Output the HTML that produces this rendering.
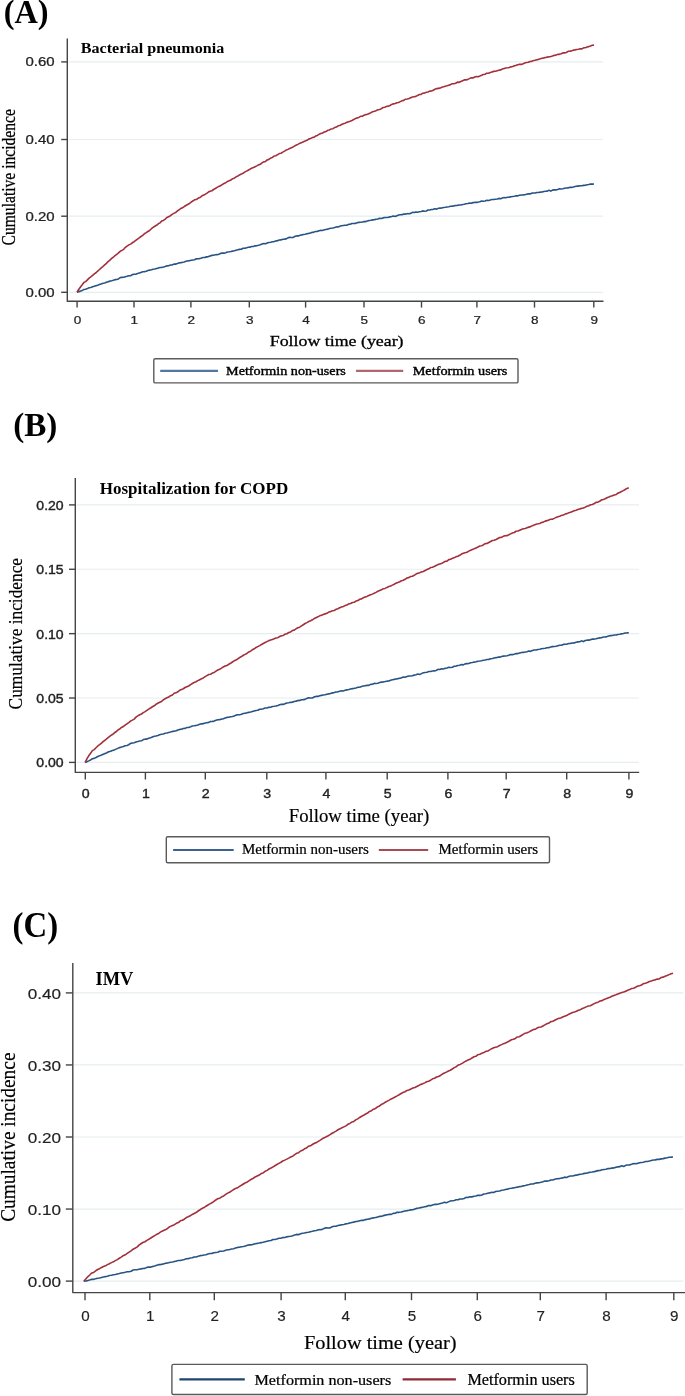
<!DOCTYPE html>
<html><head><meta charset="utf-8"><title>Cumulative incidence</title>
<style>html,body{margin:0;padding:0;background:#fff;overflow:hidden;} svg{display:block;font-family:"Liberation Serif",serif;will-change:transform;}</style>
</head><body>
<svg width="685" height="1396" viewBox="0 0 685 1396">
<rect width="685" height="1396" fill="#fff"/>
<line x1="68.5" y1="61.90" x2="603" y2="61.90" stroke="#e6eef0" stroke-width="1.2"/>
<line x1="68.5" y1="139.50" x2="603" y2="139.50" stroke="#e6eef0" stroke-width="1.2"/>
<line x1="68.5" y1="216.20" x2="603" y2="216.20" stroke="#e6eef0" stroke-width="1.2"/>
<line x1="68.5" y1="292.30" x2="603" y2="292.30" stroke="#e6eef0" stroke-width="1.2"/>
<path d="M67.3,38.4 L67.3,301.2 L603.5,301.2" fill="none" stroke="#444" stroke-width="1.4" stroke-linejoin="round"/>
<line x1="61.2" y1="61.90" x2="67.3" y2="61.90" stroke="#444" stroke-width="1.4"/>
<line x1="61.2" y1="139.50" x2="67.3" y2="139.50" stroke="#444" stroke-width="1.4"/>
<line x1="61.2" y1="216.20" x2="67.3" y2="216.20" stroke="#444" stroke-width="1.4"/>
<line x1="61.2" y1="292.30" x2="67.3" y2="292.30" stroke="#444" stroke-width="1.4"/>
<line x1="77.10" y1="301.2" x2="77.10" y2="307.6" stroke="#444" stroke-width="1.4"/>
<line x1="134.00" y1="301.2" x2="134.00" y2="307.6" stroke="#444" stroke-width="1.4"/>
<line x1="190.90" y1="301.2" x2="190.90" y2="307.6" stroke="#444" stroke-width="1.4"/>
<line x1="249.30" y1="301.2" x2="249.30" y2="307.6" stroke="#444" stroke-width="1.4"/>
<line x1="305.60" y1="301.2" x2="305.60" y2="307.6" stroke="#444" stroke-width="1.4"/>
<line x1="364.00" y1="301.2" x2="364.00" y2="307.6" stroke="#444" stroke-width="1.4"/>
<line x1="421.50" y1="301.2" x2="421.50" y2="307.6" stroke="#444" stroke-width="1.4"/>
<line x1="476.90" y1="301.2" x2="476.90" y2="307.6" stroke="#444" stroke-width="1.4"/>
<line x1="534.50" y1="301.2" x2="534.50" y2="307.6" stroke="#444" stroke-width="1.4"/>
<line x1="593.80" y1="301.2" x2="593.80" y2="307.6" stroke="#444" stroke-width="1.4"/>
<path d="M77.0,292.20 L78.7,291.64 L80.5,291.11 L82.2,290.40 L83.9,289.47 L85.6,289.31 L87.4,288.62 L89.1,287.83 L90.8,287.47 L92.6,286.85 L94.3,286.26 L96.0,285.64 L97.7,285.18 L99.5,284.36 L101.2,283.93 L102.9,283.32 L104.7,282.99 L106.4,282.34 L108.1,281.74 L109.9,281.12 L111.6,280.70 L113.3,280.23 L115.0,279.66 L116.8,279.47 L118.5,278.91 L120.2,277.66 L122.0,277.33 L123.7,277.18 L125.4,276.64 L127.1,276.29 L128.9,275.81 L130.6,275.71 L132.3,274.59 L134.1,274.27 L135.8,274.28 L137.5,273.54 L139.2,273.09 L141.0,272.39 L142.7,271.72 L144.4,271.63 L146.2,271.17 L147.9,270.46 L149.6,270.13 L151.4,269.81 L153.1,269.20 L154.8,268.94 L156.5,268.54 L158.3,268.10 L160.0,267.57 L161.7,267.37 L163.5,267.01 L165.2,266.47 L166.9,265.83 L168.6,265.72 L170.4,265.06 L172.1,264.93 L173.8,264.13 L175.6,264.12 L177.3,263.53 L179.0,262.88 L180.7,262.66 L182.5,262.34 L184.2,261.98 L185.9,261.33 L187.7,260.91 L189.4,260.78 L191.1,260.25 L192.8,260.00 L194.6,259.71 L196.3,258.83 L198.0,258.82 L199.8,258.63 L201.5,257.93 L203.2,257.44 L205.0,257.37 L206.7,256.88 L208.4,256.62 L210.1,255.99 L211.9,255.37 L213.6,255.26 L215.3,254.81 L217.1,254.66 L218.8,254.16 L220.5,253.41 L222.2,253.11 L224.0,253.14 L225.7,252.71 L227.4,252.06 L229.2,251.80 L230.9,251.50 L232.6,251.11 L234.3,250.80 L236.1,250.29 L237.8,249.83 L239.5,249.40 L241.3,249.27 L243.0,248.21 L244.7,248.24 L246.5,247.88 L248.2,247.19 L249.9,247.14 L251.6,246.54 L253.4,246.45 L255.1,245.85 L256.8,245.61 L258.6,245.31 L260.3,244.74 L262.0,244.09 L263.7,243.56 L265.5,243.81 L267.2,243.03 L268.9,242.51 L270.7,242.27 L272.4,241.80 L274.1,241.60 L275.8,241.03 L277.6,240.62 L279.3,240.07 L281.0,239.90 L282.8,239.20 L284.5,239.13 L286.2,238.90 L287.9,237.88 L289.7,237.29 L291.4,237.50 L293.1,237.48 L294.9,236.37 L296.6,235.92 L298.3,235.88 L300.1,235.19 L301.8,234.86 L303.5,234.49 L305.2,234.26 L307.0,233.67 L308.7,233.41 L310.4,232.92 L312.2,232.39 L313.9,232.10 L315.6,231.58 L317.3,231.38 L319.1,230.76 L320.8,230.37 L322.5,230.49 L324.3,229.80 L326.0,229.42 L327.7,229.15 L329.4,228.58 L331.2,228.24 L332.9,227.99 L334.6,227.58 L336.4,226.92 L338.1,226.95 L339.8,226.29 L341.6,225.83 L343.3,225.50 L345.0,225.24 L346.7,225.28 L348.5,224.37 L350.2,224.28 L351.9,223.47 L353.7,223.55 L355.4,223.39 L357.1,222.82 L358.8,222.40 L360.6,222.24 L362.3,221.99 L364.0,221.66 L365.8,221.59 L367.5,220.91 L369.2,220.42 L370.9,220.19 L372.7,219.88 L374.4,219.60 L376.1,219.25 L377.9,218.98 L379.6,218.29 L381.3,218.48 L383.1,217.89 L384.8,217.46 L386.5,217.51 L388.2,217.34 L390.0,216.87 L391.7,216.50 L393.4,215.98 L395.2,216.43 L396.9,215.73 L398.6,215.03 L400.3,214.80 L402.1,214.67 L403.8,214.04 L405.5,214.09 L407.3,213.66 L409.0,213.70 L410.7,213.35 L412.4,212.32 L414.2,212.58 L415.9,211.95 L417.6,212.20 L419.4,211.72 L421.1,211.50 L422.8,210.89 L424.5,211.17 L426.3,210.92 L428.0,210.01 L429.7,210.01 L431.5,209.51 L433.2,209.35 L434.9,208.82 L436.7,209.16 L438.4,208.30 L440.1,208.15 L441.8,208.02 L443.6,207.51 L445.3,207.30 L447.0,206.95 L448.8,206.75 L450.5,206.26 L452.2,206.13 L453.9,205.89 L455.7,205.58 L457.4,205.38 L459.1,205.03 L460.9,204.95 L462.6,204.46 L464.3,204.21 L466.0,203.83 L467.8,203.58 L469.5,203.15 L471.2,203.23 L473.0,202.62 L474.7,202.42 L476.4,202.36 L478.2,202.09 L479.9,201.65 L481.6,201.05 L483.3,201.26 L485.1,200.95 L486.8,200.34 L488.5,200.51 L490.3,199.94 L492.0,199.57 L493.7,199.54 L495.4,199.21 L497.2,199.02 L498.9,198.38 L500.6,198.79 L502.4,198.03 L504.1,197.57 L505.8,197.73 L507.5,197.26 L509.3,197.12 L511.0,196.72 L512.7,196.50 L514.5,196.29 L516.2,195.82 L517.9,195.83 L519.6,195.33 L521.4,194.98 L523.1,194.89 L524.8,194.70 L526.6,194.29 L528.3,193.89 L530.0,193.91 L531.8,193.17 L533.5,193.04 L535.2,192.98 L536.9,192.43 L538.7,192.44 L540.4,192.15 L542.1,192.07 L543.9,191.43 L545.6,191.22 L547.3,191.14 L549.0,190.31 L550.8,191.15 L552.5,190.12 L554.2,189.84 L556.0,189.89 L557.7,189.44 L559.4,188.82 L561.1,189.02 L562.9,188.80 L564.6,188.26 L566.3,188.03 L568.1,187.91 L569.8,187.36 L571.5,187.35 L573.3,187.03 L575.0,186.58 L576.7,186.17 L578.4,186.13 L580.2,185.72 L581.9,185.82 L583.6,185.38 L585.4,185.23 L587.1,184.83 L588.8,184.58 L590.5,184.09 L592.3,184.11 L594.0,184.06" fill="none" stroke="#285483" stroke-width="1.6" stroke-linejoin="round"/>
<path d="M77.0,292.20 L78.7,289.53 L80.5,286.97 L82.2,284.84 L83.9,282.50 L85.6,281.61 L87.4,279.88 L89.1,278.10 L90.8,276.90 L92.6,275.42 L94.3,273.88 L96.0,272.76 L97.7,271.03 L99.5,269.50 L101.2,267.85 L102.9,266.51 L104.7,264.81 L106.4,263.34 L108.1,261.52 L109.9,260.11 L111.6,258.37 L113.3,257.23 L115.0,255.66 L116.8,254.29 L118.5,252.94 L120.2,251.32 L122.0,250.37 L123.7,249.35 L125.4,247.35 L127.1,246.08 L128.9,244.89 L130.6,244.13 L132.3,242.77 L134.1,241.73 L135.8,240.42 L137.5,239.08 L139.2,237.84 L141.0,236.49 L142.7,235.43 L144.4,233.76 L146.2,232.62 L147.9,231.48 L149.6,230.51 L151.4,228.72 L153.1,227.39 L154.8,226.23 L156.5,225.28 L158.3,223.79 L160.0,222.87 L161.7,221.01 L163.5,220.40 L165.2,219.19 L166.9,217.51 L168.6,216.66 L170.4,215.71 L172.1,214.34 L173.8,213.39 L175.6,212.54 L177.3,211.00 L179.0,209.79 L180.7,208.60 L182.5,207.80 L184.2,206.55 L185.9,205.49 L187.7,204.45 L189.4,203.55 L191.1,202.17 L192.8,201.04 L194.6,199.83 L196.3,199.54 L198.0,198.30 L199.8,197.59 L201.5,196.28 L203.2,195.14 L205.0,194.39 L206.7,193.30 L208.4,192.08 L210.1,191.18 L211.9,190.74 L213.6,189.49 L215.3,188.53 L217.1,187.43 L218.8,186.39 L220.5,185.75 L222.2,184.59 L224.0,183.51 L225.7,182.68 L227.4,181.57 L229.2,180.84 L230.9,180.08 L232.6,178.73 L234.3,178.23 L236.1,176.86 L237.8,176.08 L239.5,174.93 L241.3,174.10 L243.0,173.21 L244.7,172.17 L246.5,171.17 L248.2,170.23 L249.9,169.26 L251.6,168.17 L253.4,167.49 L255.1,166.69 L256.8,165.85 L258.6,164.87 L260.3,164.30 L262.0,162.94 L263.7,161.86 L265.5,161.41 L267.2,159.91 L268.9,159.39 L270.7,158.10 L272.4,157.45 L274.1,156.08 L275.8,155.75 L277.6,154.64 L279.3,153.59 L281.0,153.22 L282.8,152.16 L284.5,151.13 L286.2,150.10 L287.9,149.37 L289.7,148.47 L291.4,147.79 L293.1,146.95 L294.9,145.80 L296.6,144.98 L298.3,144.14 L300.1,143.14 L301.8,142.46 L303.5,141.73 L305.2,141.07 L307.0,140.37 L308.7,139.13 L310.4,138.60 L312.2,137.59 L313.9,137.30 L315.6,136.07 L317.3,135.39 L319.1,134.32 L320.8,133.56 L322.5,132.98 L324.3,132.09 L326.0,131.47 L327.7,130.32 L329.4,130.00 L331.2,128.93 L332.9,128.70 L334.6,127.54 L336.4,127.07 L338.1,125.83 L339.8,125.45 L341.6,124.45 L343.3,123.80 L345.0,123.17 L346.7,122.38 L348.5,121.77 L350.2,121.15 L351.9,120.41 L353.7,119.55 L355.4,118.58 L357.1,117.99 L358.8,117.41 L360.6,116.32 L362.3,116.20 L364.0,115.30 L365.8,114.61 L367.5,114.16 L369.2,113.42 L370.9,112.65 L372.7,111.73 L374.4,111.31 L376.1,110.65 L377.9,109.73 L379.6,109.45 L381.3,108.68 L383.1,107.52 L384.8,107.29 L386.5,106.35 L388.2,106.18 L390.0,105.47 L391.7,104.44 L393.4,103.85 L395.2,103.41 L396.9,102.70 L398.6,102.42 L400.3,101.64 L402.1,100.81 L403.8,100.36 L405.5,99.21 L407.3,99.07 L409.0,98.56 L410.7,97.75 L412.4,97.03 L414.2,96.68 L415.9,96.36 L417.6,95.41 L419.4,94.55 L421.1,94.47 L422.8,93.22 L424.5,93.11 L426.3,92.31 L428.0,92.03 L429.7,91.10 L431.5,90.96 L433.2,90.19 L434.9,89.21 L436.7,88.60 L438.4,88.37 L440.1,88.13 L441.8,87.34 L443.6,86.77 L445.3,86.16 L447.0,85.80 L448.8,85.18 L450.5,84.62 L452.2,83.82 L453.9,83.72 L455.7,83.22 L457.4,82.15 L459.1,82.34 L460.9,81.49 L462.6,80.72 L464.3,79.91 L466.0,79.90 L467.8,79.36 L469.5,78.61 L471.2,77.85 L473.0,77.92 L474.7,77.07 L476.4,76.58 L478.2,76.74 L479.9,76.09 L481.6,75.35 L483.3,74.56 L485.1,74.29 L486.8,73.20 L488.5,73.18 L490.3,72.51 L492.0,71.92 L493.7,71.37 L495.4,71.30 L497.2,70.72 L498.9,70.25 L500.6,69.90 L502.4,69.08 L504.1,68.53 L505.8,67.94 L507.5,67.75 L509.3,67.49 L511.0,66.84 L512.7,66.52 L514.5,65.68 L516.2,65.36 L517.9,64.83 L519.6,64.26 L521.4,64.42 L523.1,63.75 L524.8,62.97 L526.6,62.50 L528.3,62.18 L530.0,61.45 L531.8,61.36 L533.5,60.56 L535.2,60.29 L536.9,59.70 L538.7,59.35 L540.4,58.73 L542.1,58.23 L543.9,57.90 L545.6,57.51 L547.3,57.13 L549.0,56.76 L550.8,56.60 L552.5,56.01 L554.2,55.35 L556.0,55.10 L557.7,54.37 L559.4,54.35 L561.1,53.73 L562.9,52.91 L564.6,52.88 L566.3,52.45 L568.1,51.31 L569.8,51.26 L571.5,50.87 L573.3,50.14 L575.0,49.87 L576.7,49.46 L578.4,49.31 L580.2,48.83 L581.9,48.86 L583.6,47.81 L585.4,47.68 L587.1,47.03 L588.8,46.63 L590.5,45.91 L592.3,45.32 L594.0,45.11" fill="none" stroke="#a2303a" stroke-width="1.6" stroke-linejoin="round"/>
<rect x="153.8" y="358.7" width="364.20" height="24.20" rx="1.5" fill="#fff" stroke="#5a5a5a" stroke-width="1.4"/>
<line x1="160.2" y1="370.9" x2="218" y2="370.9" stroke="#5277a0" stroke-width="2.2"/>
<line x1="356.0" y1="370.9" x2="403.2" y2="370.9" stroke="#b0666c" stroke-width="2.2"/>
<line x1="76.5" y1="504.90" x2="639" y2="504.90" stroke="#e6eef0" stroke-width="1.2"/>
<line x1="76.5" y1="569.27" x2="639" y2="569.27" stroke="#e6eef0" stroke-width="1.2"/>
<line x1="76.5" y1="633.65" x2="639" y2="633.65" stroke="#e6eef0" stroke-width="1.2"/>
<line x1="76.5" y1="698.02" x2="639" y2="698.02" stroke="#e6eef0" stroke-width="1.2"/>
<line x1="76.5" y1="762.40" x2="639" y2="762.40" stroke="#e6eef0" stroke-width="1.2"/>
<path d="M75.3,478.0 L75.3,772.4 L639.2,772.4" fill="none" stroke="#444" stroke-width="1.4" stroke-linejoin="round"/>
<line x1="69" y1="504.90" x2="75.3" y2="504.90" stroke="#444" stroke-width="1.4"/>
<line x1="69" y1="569.27" x2="75.3" y2="569.27" stroke="#444" stroke-width="1.4"/>
<line x1="69" y1="633.65" x2="75.3" y2="633.65" stroke="#444" stroke-width="1.4"/>
<line x1="69" y1="698.02" x2="75.3" y2="698.02" stroke="#444" stroke-width="1.4"/>
<line x1="69" y1="762.40" x2="75.3" y2="762.40" stroke="#444" stroke-width="1.4"/>
<line x1="85.30" y1="772.4" x2="85.30" y2="779.5" stroke="#444" stroke-width="1.4"/>
<line x1="145.40" y1="772.4" x2="145.40" y2="779.5" stroke="#444" stroke-width="1.4"/>
<line x1="205.30" y1="772.4" x2="205.30" y2="779.5" stroke="#444" stroke-width="1.4"/>
<line x1="266.80" y1="772.4" x2="266.80" y2="779.5" stroke="#444" stroke-width="1.4"/>
<line x1="325.90" y1="772.4" x2="325.90" y2="779.5" stroke="#444" stroke-width="1.4"/>
<line x1="387.20" y1="772.4" x2="387.20" y2="779.5" stroke="#444" stroke-width="1.4"/>
<line x1="447.90" y1="772.4" x2="447.90" y2="779.5" stroke="#444" stroke-width="1.4"/>
<line x1="506.20" y1="772.4" x2="506.20" y2="779.5" stroke="#444" stroke-width="1.4"/>
<line x1="566.70" y1="772.4" x2="566.70" y2="779.5" stroke="#444" stroke-width="1.4"/>
<line x1="628.90" y1="772.4" x2="628.90" y2="779.5" stroke="#444" stroke-width="1.4"/>
<path d="M85.1,762.50 L86.9,761.67 L88.7,760.89 L90.6,759.92 L92.4,758.75 L94.2,758.35 L96.0,757.44 L97.8,756.44 L99.6,755.86 L101.5,755.04 L103.3,754.25 L105.1,753.44 L106.9,752.80 L108.7,751.80 L110.6,751.19 L112.4,750.42 L114.2,749.93 L116.0,749.13 L117.8,748.38 L119.6,747.61 L121.5,747.05 L123.3,746.45 L125.1,745.75 L126.9,745.43 L128.7,744.74 L130.6,743.38 L132.4,742.93 L134.2,742.67 L136.0,742.03 L137.8,741.57 L139.7,740.99 L141.5,740.79 L143.3,739.58 L145.1,739.17 L146.9,739.10 L148.7,738.27 L150.6,737.73 L152.4,736.96 L154.2,736.20 L156.0,736.04 L157.8,735.51 L159.7,734.73 L161.5,734.32 L163.3,733.94 L165.1,733.26 L166.9,732.94 L168.7,732.48 L170.6,731.98 L172.4,731.39 L174.2,731.13 L176.0,730.71 L177.8,730.12 L179.7,729.41 L181.5,729.25 L183.3,728.54 L185.1,728.35 L186.9,727.50 L188.7,727.43 L190.6,726.78 L192.4,726.08 L194.2,725.81 L196.0,725.43 L197.8,725.01 L199.7,724.31 L201.5,723.83 L203.3,723.64 L205.1,723.05 L206.9,722.73 L208.8,722.38 L210.6,721.45 L212.4,721.37 L214.2,721.11 L216.0,720.36 L217.8,719.80 L219.7,719.66 L221.5,719.10 L223.3,718.78 L225.1,718.08 L226.9,717.40 L228.8,717.22 L230.6,716.70 L232.4,716.49 L234.2,715.93 L236.0,715.11 L237.8,714.75 L239.7,714.71 L241.5,714.22 L243.3,713.51 L245.1,713.19 L246.9,712.84 L248.8,712.39 L250.6,712.03 L252.4,711.46 L254.2,710.95 L256.0,710.48 L257.8,710.30 L259.7,709.20 L261.5,709.18 L263.3,708.78 L265.1,708.05 L266.9,707.97 L268.8,707.34 L270.6,707.21 L272.4,706.58 L274.2,706.31 L276.0,705.99 L277.8,705.40 L279.7,704.72 L281.5,704.17 L283.3,704.40 L285.1,703.61 L286.9,703.07 L288.8,702.82 L290.6,702.34 L292.4,702.13 L294.2,701.56 L296.0,701.14 L297.9,700.58 L299.7,700.41 L301.5,699.70 L303.3,699.63 L305.1,699.40 L306.9,698.38 L308.8,697.79 L310.6,698.00 L312.4,697.98 L314.2,696.87 L316.0,696.41 L317.9,696.38 L319.7,695.69 L321.5,695.36 L323.3,694.99 L325.1,694.76 L326.9,694.18 L328.8,693.91 L330.6,693.42 L332.4,692.89 L334.2,692.60 L336.0,692.07 L337.9,691.86 L339.7,691.24 L341.5,690.84 L343.3,690.95 L345.1,690.25 L346.9,689.85 L348.8,689.56 L350.6,688.98 L352.4,688.61 L354.2,688.34 L356.0,687.91 L357.9,687.22 L359.7,687.22 L361.5,686.53 L363.3,686.04 L365.1,685.67 L367.0,685.37 L368.8,685.37 L370.6,684.41 L372.4,684.27 L374.2,683.41 L376.0,683.44 L377.9,683.21 L379.7,682.59 L381.5,682.11 L383.3,681.88 L385.1,681.57 L387.0,681.16 L388.8,681.02 L390.6,680.26 L392.4,679.70 L394.2,679.40 L396.0,679.01 L397.9,678.64 L399.7,678.21 L401.5,677.85 L403.3,677.08 L405.1,677.18 L407.0,676.50 L408.8,675.99 L410.6,675.95 L412.4,675.69 L414.2,675.12 L416.0,674.66 L417.9,674.04 L419.7,674.41 L421.5,673.61 L423.3,672.81 L425.1,672.49 L427.0,672.27 L428.8,671.55 L430.6,671.50 L432.4,670.98 L434.2,670.92 L436.1,670.48 L437.9,669.35 L439.7,669.51 L441.5,668.79 L443.3,668.94 L445.1,668.36 L447.0,668.05 L448.8,667.34 L450.6,667.53 L452.4,667.18 L454.2,666.18 L456.1,666.08 L457.9,665.49 L459.7,665.24 L461.5,664.61 L463.3,664.85 L465.1,663.90 L467.0,663.66 L468.8,663.44 L470.6,662.83 L472.4,662.53 L474.2,662.09 L476.1,661.80 L477.9,661.22 L479.7,660.99 L481.5,660.67 L483.3,660.27 L485.1,659.98 L487.0,659.54 L488.8,659.38 L490.6,658.80 L492.4,658.47 L494.2,657.99 L496.1,657.66 L497.9,657.15 L499.7,657.14 L501.5,656.45 L503.3,656.16 L505.1,656.02 L507.0,655.67 L508.8,655.15 L510.6,654.47 L512.4,654.60 L514.2,654.22 L516.1,653.53 L517.9,653.61 L519.7,652.96 L521.5,652.52 L523.3,652.41 L525.2,652.00 L527.0,651.73 L528.8,651.02 L530.6,651.35 L532.4,650.52 L534.2,649.98 L536.1,650.06 L537.9,649.52 L539.7,649.31 L541.5,648.83 L543.3,648.54 L545.2,648.25 L547.0,647.71 L548.8,647.65 L550.6,647.07 L552.4,646.65 L554.2,646.49 L556.1,646.22 L557.9,645.74 L559.7,645.27 L561.5,645.23 L563.3,644.41 L565.2,644.21 L567.0,644.08 L568.8,643.46 L570.6,643.40 L572.4,643.04 L574.2,642.89 L576.1,642.18 L577.9,641.90 L579.7,641.75 L581.5,640.85 L583.3,641.62 L585.2,640.52 L587.0,640.17 L588.8,640.15 L590.6,639.63 L592.4,638.94 L594.3,639.08 L596.1,638.78 L597.9,638.18 L599.7,637.87 L601.5,637.68 L603.3,637.06 L605.2,636.99 L607.0,636.60 L608.8,636.08 L610.6,635.59 L612.4,635.48 L614.3,635.01 L616.1,635.04 L617.9,634.53 L619.7,634.31 L621.5,633.84 L623.3,633.52 L625.2,632.96 L627.0,632.91 L628.8,632.78" fill="none" stroke="#285483" stroke-width="1.6" stroke-linejoin="round"/>
<path d="M85.1,762.50 L86.9,758.95 L88.7,755.78 L90.6,753.24 L92.4,750.65 L94.2,749.61 L96.0,747.80 L97.8,745.95 L99.6,744.66 L101.5,743.07 L103.3,741.42 L105.1,740.27 L106.9,738.58 L108.7,737.15 L110.6,735.65 L112.4,734.51 L114.2,733.02 L116.0,731.78 L117.8,730.20 L119.6,729.01 L121.5,727.49 L123.3,726.52 L125.1,725.09 L126.9,723.83 L128.7,722.57 L130.6,721.01 L132.4,720.11 L134.2,719.12 L136.0,717.14 L137.8,715.90 L139.7,714.73 L141.5,713.99 L143.3,712.65 L145.1,711.65 L146.9,710.40 L148.7,709.13 L150.6,707.99 L152.4,706.75 L154.2,705.81 L156.0,704.28 L157.8,703.30 L159.7,702.32 L161.5,701.52 L163.3,699.91 L165.1,698.76 L166.9,697.78 L168.7,697.02 L170.6,695.71 L172.4,694.97 L174.2,693.28 L176.0,692.84 L177.8,691.78 L179.7,690.27 L181.5,689.56 L183.3,688.76 L185.1,687.53 L186.9,686.72 L188.7,686.00 L190.6,684.59 L192.4,683.50 L194.2,682.43 L196.0,681.75 L197.8,680.62 L199.7,679.67 L201.5,678.73 L203.3,677.93 L205.1,676.64 L206.9,675.60 L208.8,674.47 L210.6,674.24 L212.4,673.06 L214.2,672.39 L216.0,671.13 L217.8,670.01 L219.7,669.28 L221.5,668.19 L223.3,666.96 L225.1,666.03 L226.9,665.55 L228.8,664.24 L230.6,663.21 L232.4,662.02 L234.2,660.86 L236.0,660.09 L237.8,658.79 L239.7,657.55 L241.5,656.55 L243.3,655.27 L245.1,654.36 L246.9,653.42 L248.8,651.91 L250.6,651.24 L252.4,649.72 L254.2,648.79 L256.0,647.52 L257.8,646.59 L259.7,645.62 L261.5,644.52 L263.3,643.49 L265.1,642.56 L266.9,641.63 L268.8,640.62 L270.6,640.07 L272.4,639.42 L274.2,638.78 L276.0,638.01 L277.8,637.67 L279.7,636.55 L281.5,635.69 L283.3,635.44 L285.1,634.11 L286.9,633.74 L288.8,632.54 L290.6,631.93 L292.4,630.55 L294.2,630.15 L296.0,628.93 L297.9,627.73 L299.7,627.21 L301.5,625.95 L303.3,624.74 L305.1,623.51 L306.9,622.60 L308.8,621.55 L310.6,620.73 L312.4,619.79 L314.2,618.57 L316.0,617.70 L317.9,616.84 L319.7,615.84 L321.5,615.18 L323.3,614.49 L325.1,613.87 L326.9,613.24 L328.8,612.07 L330.6,611.61 L332.4,610.68 L334.2,610.46 L336.0,609.32 L337.9,608.71 L339.7,607.69 L341.5,606.99 L343.3,606.46 L345.1,605.60 L346.9,605.00 L348.8,603.86 L350.6,603.55 L352.4,602.47 L354.2,602.23 L356.0,601.05 L357.9,600.55 L359.7,599.27 L361.5,598.85 L363.3,597.80 L365.1,597.09 L367.0,596.39 L368.8,595.52 L370.6,594.84 L372.4,594.13 L374.2,593.30 L376.0,592.34 L377.9,591.27 L379.7,590.57 L381.5,589.87 L383.3,588.67 L385.1,588.42 L387.0,587.40 L388.8,586.58 L390.6,586.00 L392.4,585.12 L394.2,584.20 L396.0,583.14 L397.9,582.58 L399.7,581.76 L401.5,580.69 L403.3,580.25 L405.1,579.33 L407.0,578.01 L408.8,577.61 L410.6,576.52 L412.4,576.18 L414.2,575.30 L416.0,574.11 L417.9,573.35 L419.7,572.74 L421.5,571.87 L423.3,571.42 L425.1,570.46 L427.0,569.46 L428.8,568.84 L430.6,567.53 L432.4,567.20 L434.2,566.53 L436.1,565.53 L437.9,564.63 L439.7,564.10 L441.5,563.58 L443.3,562.44 L445.1,561.39 L447.0,561.11 L448.8,559.65 L450.6,559.33 L452.4,558.31 L454.2,557.81 L456.1,556.65 L457.9,556.28 L459.7,555.26 L461.5,554.05 L463.3,553.18 L465.1,552.69 L467.0,552.19 L468.8,551.14 L470.6,550.31 L472.4,549.43 L474.2,548.81 L476.1,547.93 L477.9,547.10 L479.7,546.04 L481.5,545.68 L483.3,544.93 L485.1,543.61 L487.0,543.56 L488.8,542.48 L490.6,541.48 L492.4,540.45 L494.2,540.22 L496.1,539.46 L497.9,538.51 L499.7,537.55 L501.5,537.42 L503.3,536.37 L505.1,535.69 L507.0,535.66 L508.8,534.82 L510.6,533.90 L512.4,532.94 L514.2,532.49 L516.1,531.23 L517.9,531.04 L519.7,530.21 L521.5,529.44 L523.3,528.73 L525.2,528.50 L527.0,527.76 L528.8,527.13 L530.6,526.63 L532.4,525.65 L534.2,524.93 L536.1,524.18 L537.9,523.83 L539.7,523.42 L541.5,522.60 L543.3,522.13 L545.2,521.13 L547.0,520.64 L548.8,519.94 L550.6,519.21 L552.4,519.20 L554.2,518.36 L556.1,517.40 L557.9,516.77 L559.7,516.27 L561.5,515.35 L563.3,515.08 L565.2,514.09 L567.0,513.62 L568.8,512.84 L570.6,512.29 L572.4,511.46 L574.2,510.75 L576.1,510.20 L577.9,509.59 L579.7,508.99 L581.5,508.38 L583.3,507.98 L585.2,507.15 L587.0,506.23 L588.8,505.72 L590.6,504.73 L592.4,504.44 L594.3,503.53 L596.1,502.41 L597.9,502.09 L599.7,501.36 L601.5,499.90 L603.3,499.52 L605.2,498.80 L607.0,497.72 L608.8,497.10 L610.6,496.32 L612.4,495.80 L614.3,494.93 L616.1,494.56 L617.9,493.11 L619.7,492.56 L621.5,491.48 L623.3,490.63 L625.2,489.46 L627.0,488.40 L628.8,487.71" fill="none" stroke="#a2303a" stroke-width="1.6" stroke-linejoin="round"/>
<rect x="166.3" y="836.7" width="383.20" height="26.00" rx="1.5" fill="#fff" stroke="#5a5a5a" stroke-width="1.4"/>
<line x1="173.1" y1="850.0" x2="233.7" y2="850.0" stroke="#3a6290" stroke-width="2.2"/>
<line x1="378.8" y1="850.0" x2="428.2" y2="850.0" stroke="#a84c53" stroke-width="2.2"/>
<line x1="74" y1="1281.10" x2="683.4" y2="1281.10" stroke="#e6eef0" stroke-width="1.2"/>
<line x1="74" y1="1209.05" x2="683.4" y2="1209.05" stroke="#e6eef0" stroke-width="1.2"/>
<line x1="74" y1="1137.00" x2="683.4" y2="1137.00" stroke="#e6eef0" stroke-width="1.2"/>
<line x1="74" y1="1064.95" x2="683.4" y2="1064.95" stroke="#e6eef0" stroke-width="1.2"/>
<line x1="74" y1="992.90" x2="683.4" y2="992.90" stroke="#e6eef0" stroke-width="1.2"/>
<path d="M72.8,962.9 L72.8,1292.6 L685,1292.6" fill="none" stroke="#444" stroke-width="1.4" stroke-linejoin="round"/>
<line x1="65.8" y1="1281.10" x2="72.8" y2="1281.10" stroke="#444" stroke-width="1.4"/>
<line x1="65.8" y1="1209.05" x2="72.8" y2="1209.05" stroke="#444" stroke-width="1.4"/>
<line x1="65.8" y1="1137.00" x2="72.8" y2="1137.00" stroke="#444" stroke-width="1.4"/>
<line x1="65.8" y1="1064.95" x2="72.8" y2="1064.95" stroke="#444" stroke-width="1.4"/>
<line x1="65.8" y1="992.90" x2="72.8" y2="992.90" stroke="#444" stroke-width="1.4"/>
<line x1="85.00" y1="1292.6" x2="85.00" y2="1300.2" stroke="#444" stroke-width="1.4"/>
<line x1="149.80" y1="1292.6" x2="149.80" y2="1300.2" stroke="#444" stroke-width="1.4"/>
<line x1="214.30" y1="1292.6" x2="214.30" y2="1300.2" stroke="#444" stroke-width="1.4"/>
<line x1="281.10" y1="1292.6" x2="281.10" y2="1300.2" stroke="#444" stroke-width="1.4"/>
<line x1="345.30" y1="1292.6" x2="345.30" y2="1300.2" stroke="#444" stroke-width="1.4"/>
<line x1="411.50" y1="1292.6" x2="411.50" y2="1300.2" stroke="#444" stroke-width="1.4"/>
<line x1="477.30" y1="1292.6" x2="477.30" y2="1300.2" stroke="#444" stroke-width="1.4"/>
<line x1="540.30" y1="1292.6" x2="540.30" y2="1300.2" stroke="#444" stroke-width="1.4"/>
<line x1="606.10" y1="1292.6" x2="606.10" y2="1300.2" stroke="#444" stroke-width="1.4"/>
<line x1="673.80" y1="1292.6" x2="673.80" y2="1300.2" stroke="#444" stroke-width="1.4"/>
<path d="M83.8,1281.30 L85.8,1280.93 L87.7,1280.60 L89.7,1280.08 L91.7,1279.32 L93.7,1279.34 L95.6,1278.82 L97.6,1278.19 L99.6,1277.99 L101.5,1277.51 L103.5,1277.07 L105.5,1276.59 L107.4,1276.27 L109.4,1275.58 L111.4,1275.27 L113.4,1274.77 L115.3,1274.56 L117.3,1274.02 L119.3,1273.52 L121.2,1273.00 L123.2,1272.67 L125.2,1272.30 L127.2,1271.81 L129.1,1271.69 L131.1,1271.21 L133.1,1270.03 L135.0,1269.77 L137.0,1269.68 L139.0,1269.20 L140.9,1268.90 L142.9,1268.47 L144.9,1268.42 L146.9,1267.34 L148.8,1267.06 L150.8,1267.11 L152.8,1266.40 L154.7,1265.97 L156.7,1265.31 L158.7,1264.65 L160.7,1264.58 L162.6,1264.14 L164.6,1263.44 L166.6,1263.12 L168.5,1262.81 L170.5,1262.20 L172.5,1261.94 L174.4,1261.55 L176.4,1261.10 L178.4,1260.56 L180.4,1260.35 L182.3,1259.98 L184.3,1259.43 L186.3,1258.77 L188.2,1258.65 L190.2,1257.97 L192.2,1257.82 L194.2,1256.99 L196.1,1256.96 L198.1,1256.34 L200.1,1255.66 L202.0,1255.42 L204.0,1255.06 L206.0,1254.67 L207.9,1253.99 L209.9,1253.53 L211.9,1253.36 L213.9,1252.79 L215.8,1252.50 L217.8,1252.17 L219.8,1251.26 L221.7,1251.21 L223.7,1250.97 L225.7,1250.23 L227.7,1249.70 L229.6,1249.58 L231.6,1249.04 L233.6,1248.74 L235.5,1248.06 L237.5,1247.40 L239.5,1247.24 L241.4,1246.74 L243.4,1246.55 L245.4,1246.00 L247.4,1245.20 L249.3,1244.86 L251.3,1244.84 L253.3,1244.37 L255.2,1243.67 L257.2,1243.37 L259.2,1243.02 L261.2,1242.60 L263.1,1242.24 L265.1,1241.69 L267.1,1241.19 L269.0,1240.72 L271.0,1240.55 L273.0,1239.46 L274.9,1239.45 L276.9,1239.05 L278.9,1238.32 L280.9,1238.24 L282.8,1237.61 L284.8,1237.48 L286.8,1236.85 L288.7,1236.58 L290.7,1236.26 L292.7,1235.66 L294.7,1234.97 L296.6,1234.41 L298.6,1234.64 L300.6,1233.83 L302.5,1233.28 L304.5,1233.02 L306.5,1232.52 L308.4,1232.29 L310.4,1231.70 L312.4,1231.26 L314.4,1230.69 L316.3,1230.49 L318.3,1229.76 L320.3,1229.67 L322.2,1229.41 L324.2,1228.37 L326.2,1227.75 L328.2,1227.93 L330.1,1227.89 L332.1,1226.74 L334.1,1226.26 L336.0,1226.20 L338.0,1225.48 L340.0,1225.12 L341.9,1224.72 L343.9,1224.46 L345.9,1223.85 L347.9,1223.55 L349.8,1223.03 L351.8,1222.47 L353.8,1222.14 L355.7,1221.58 L357.7,1221.34 L359.7,1220.69 L361.7,1220.26 L363.6,1220.34 L365.6,1219.61 L367.6,1219.18 L369.5,1218.87 L371.5,1218.25 L373.5,1217.86 L375.4,1217.56 L377.4,1217.10 L379.4,1216.38 L381.4,1216.35 L383.3,1215.64 L385.3,1215.12 L387.3,1214.72 L389.2,1214.39 L391.2,1214.37 L393.2,1213.38 L395.1,1213.22 L397.1,1212.33 L399.1,1212.33 L401.1,1212.08 L403.0,1211.43 L405.0,1210.92 L407.0,1210.66 L408.9,1210.33 L410.9,1209.90 L412.9,1209.73 L414.9,1208.95 L416.8,1208.37 L418.8,1208.03 L420.8,1207.62 L422.7,1207.23 L424.7,1206.78 L426.7,1206.39 L428.6,1205.60 L430.6,1205.67 L432.6,1204.97 L434.6,1204.42 L436.5,1204.36 L438.5,1204.07 L440.5,1203.49 L442.4,1203.00 L444.4,1202.35 L446.4,1202.69 L448.4,1201.87 L450.3,1201.05 L452.3,1200.70 L454.3,1200.45 L456.2,1199.70 L458.2,1199.62 L460.2,1199.07 L462.1,1198.99 L464.1,1198.52 L466.1,1197.36 L468.1,1197.50 L470.0,1196.75 L472.0,1196.87 L474.0,1196.27 L475.9,1195.92 L477.9,1195.18 L479.9,1195.34 L481.9,1194.97 L483.8,1193.93 L485.8,1193.80 L487.8,1193.18 L489.7,1192.89 L491.7,1192.23 L493.7,1192.44 L495.6,1191.46 L497.6,1191.18 L499.6,1190.93 L501.6,1190.29 L503.5,1189.95 L505.5,1189.48 L507.5,1189.15 L509.4,1188.53 L511.4,1188.27 L513.4,1187.91 L515.4,1187.47 L517.3,1187.14 L519.3,1186.66 L521.3,1186.46 L523.2,1185.84 L525.2,1185.47 L527.2,1184.96 L529.1,1184.58 L531.1,1184.02 L533.1,1183.97 L535.1,1183.24 L537.0,1182.91 L539.0,1182.73 L541.0,1182.33 L542.9,1181.77 L544.9,1181.04 L546.9,1181.13 L548.9,1180.70 L550.8,1179.96 L552.8,1180.00 L554.8,1179.30 L556.7,1178.82 L558.7,1178.67 L560.7,1178.21 L562.6,1177.89 L564.6,1177.13 L566.6,1177.42 L568.6,1176.54 L570.5,1175.96 L572.5,1176.00 L574.5,1175.41 L576.4,1175.15 L578.4,1174.63 L580.4,1174.29 L582.4,1173.96 L584.3,1173.37 L586.3,1173.27 L588.3,1172.65 L590.2,1172.18 L592.2,1171.98 L594.2,1171.66 L596.1,1171.14 L598.1,1170.63 L600.1,1170.54 L602.1,1169.68 L604.0,1169.44 L606.0,1169.27 L608.0,1168.61 L609.9,1168.51 L611.9,1168.11 L613.9,1167.92 L615.9,1167.18 L617.8,1166.85 L619.8,1166.67 L621.8,1165.73 L623.7,1166.47 L625.7,1165.33 L627.7,1164.95 L629.6,1164.89 L631.6,1164.34 L633.6,1163.62 L635.6,1163.72 L637.5,1163.40 L639.5,1162.77 L641.5,1162.43 L643.4,1162.21 L645.4,1161.57 L647.4,1161.47 L649.4,1161.05 L651.3,1160.51 L653.3,1160.00 L655.3,1159.87 L657.2,1159.38 L659.2,1159.39 L661.2,1158.86 L663.1,1158.62 L665.1,1158.13 L667.1,1157.80 L669.1,1157.23 L671.0,1157.16 L673.0,1157.03" fill="none" stroke="#285483" stroke-width="1.6" stroke-linejoin="round"/>
<path d="M83.8,1281.30 L85.8,1279.03 L87.7,1276.84 L89.7,1275.03 L91.7,1273.00 L93.7,1272.40 L95.6,1270.97 L97.6,1269.50 L99.6,1268.65 L101.5,1267.55 L103.5,1266.44 L105.5,1265.83 L107.4,1264.65 L109.4,1263.71 L111.4,1262.63 L113.4,1261.83 L115.3,1260.63 L117.3,1259.62 L119.3,1258.22 L121.2,1257.16 L123.2,1255.71 L125.2,1254.80 L127.2,1253.38 L129.1,1252.10 L131.1,1250.80 L133.1,1249.20 L135.0,1248.23 L137.0,1247.16 L139.0,1245.10 L140.9,1243.78 L142.9,1242.53 L144.9,1241.73 L146.9,1240.34 L148.8,1239.30 L150.8,1238.02 L152.8,1236.74 L154.7,1235.58 L156.7,1234.34 L158.7,1233.41 L160.7,1231.89 L162.6,1230.92 L164.6,1229.95 L166.6,1229.16 L168.5,1227.56 L170.5,1226.40 L172.5,1225.42 L174.4,1224.64 L176.4,1223.32 L178.4,1222.54 L180.4,1220.80 L182.3,1220.30 L184.3,1219.18 L186.3,1217.56 L188.2,1216.75 L190.2,1215.82 L192.2,1214.45 L194.2,1213.48 L196.1,1212.59 L198.1,1211.00 L200.1,1209.72 L202.0,1208.44 L204.0,1207.55 L206.0,1206.20 L207.9,1205.02 L209.9,1203.85 L211.9,1202.81 L213.9,1201.29 L215.8,1200.01 L217.8,1198.65 L219.8,1198.20 L221.7,1196.80 L223.7,1195.92 L225.7,1194.45 L227.7,1193.13 L229.6,1192.21 L231.6,1190.94 L233.6,1189.54 L235.5,1188.45 L237.5,1187.83 L239.5,1186.39 L241.4,1185.25 L243.4,1183.96 L245.4,1182.73 L247.4,1181.90 L249.3,1180.55 L251.3,1179.27 L253.3,1178.26 L255.2,1176.96 L257.2,1176.04 L259.2,1175.09 L261.2,1173.56 L263.1,1172.88 L265.1,1171.32 L267.1,1170.35 L269.0,1169.02 L271.0,1168.02 L273.0,1166.94 L274.9,1165.72 L276.9,1164.54 L278.9,1163.41 L280.9,1162.26 L282.8,1160.99 L284.8,1160.12 L286.8,1159.13 L288.7,1158.11 L290.7,1156.94 L292.7,1156.18 L294.7,1154.63 L296.6,1153.36 L298.6,1152.70 L300.6,1151.00 L302.5,1150.29 L304.5,1148.79 L306.5,1147.93 L308.4,1146.35 L310.4,1145.81 L312.4,1144.48 L314.4,1143.21 L316.3,1142.62 L318.3,1141.33 L320.3,1140.07 L322.2,1138.80 L324.2,1137.83 L326.2,1136.70 L328.2,1135.77 L330.1,1134.67 L332.1,1133.27 L334.1,1132.18 L336.0,1131.07 L338.0,1129.79 L340.0,1128.83 L341.9,1127.81 L343.9,1126.85 L345.9,1125.85 L347.9,1124.30 L349.8,1123.44 L351.8,1122.11 L353.8,1121.48 L355.7,1119.91 L357.7,1118.87 L359.7,1117.43 L361.7,1116.30 L363.6,1115.33 L365.6,1114.04 L367.6,1113.01 L369.5,1111.45 L371.5,1110.71 L373.5,1109.21 L375.4,1108.55 L377.4,1106.97 L379.4,1106.07 L381.4,1104.40 L383.3,1103.60 L385.3,1102.19 L387.3,1101.13 L389.2,1100.10 L391.2,1098.92 L393.2,1097.95 L395.1,1096.97 L397.1,1095.90 L399.1,1094.72 L401.1,1093.46 L403.0,1092.59 L405.0,1091.75 L407.0,1090.42 L408.9,1090.07 L410.9,1088.97 L412.9,1088.06 L414.9,1087.41 L416.8,1086.47 L418.8,1085.50 L420.8,1084.38 L422.7,1083.76 L424.7,1082.88 L426.7,1081.74 L428.6,1081.23 L430.6,1080.21 L432.6,1078.79 L434.6,1078.26 L436.5,1077.02 L438.5,1076.52 L440.5,1075.44 L442.4,1074.02 L444.4,1073.01 L446.4,1072.13 L448.4,1070.97 L450.3,1070.22 L452.3,1068.95 L454.3,1067.63 L456.2,1066.68 L458.2,1065.04 L460.2,1064.39 L462.1,1063.40 L464.1,1062.09 L466.1,1060.90 L468.1,1060.10 L470.0,1059.33 L472.0,1057.96 L474.0,1056.71 L475.9,1056.26 L477.9,1054.67 L479.9,1054.25 L481.9,1053.15 L483.8,1052.59 L485.8,1051.38 L487.8,1050.97 L489.7,1049.92 L491.7,1048.67 L493.7,1047.76 L495.6,1047.23 L497.6,1046.67 L499.6,1045.54 L501.6,1044.62 L503.5,1043.65 L505.5,1042.92 L507.5,1041.92 L509.4,1040.97 L511.4,1039.79 L513.4,1039.29 L515.4,1038.40 L517.3,1036.94 L519.3,1036.74 L521.3,1035.51 L523.2,1034.36 L525.2,1033.17 L527.2,1032.78 L529.1,1031.86 L531.1,1030.74 L533.1,1029.61 L535.1,1029.31 L537.0,1028.08 L539.0,1027.22 L541.0,1027.01 L542.9,1026.00 L544.9,1024.89 L546.9,1023.74 L548.9,1023.10 L550.8,1021.65 L552.8,1021.27 L554.8,1020.25 L556.7,1019.29 L558.7,1018.38 L560.7,1017.96 L562.6,1017.02 L564.6,1016.20 L566.6,1015.49 L568.6,1014.32 L570.5,1013.41 L572.5,1012.47 L574.5,1011.92 L576.4,1011.31 L578.4,1010.31 L580.4,1009.64 L582.4,1008.45 L584.3,1007.77 L586.3,1006.89 L588.3,1005.97 L590.2,1005.78 L592.2,1004.76 L594.2,1003.62 L596.1,1002.81 L598.1,1002.14 L600.1,1001.05 L602.1,1000.62 L604.0,999.46 L606.0,998.84 L608.0,997.91 L609.9,997.22 L611.9,996.25 L613.9,995.41 L615.9,994.73 L617.8,994.00 L619.8,993.29 L621.8,992.58 L623.7,992.09 L625.7,991.16 L627.7,990.18 L629.6,989.60 L631.6,988.55 L633.6,988.21 L635.6,987.27 L637.5,986.13 L639.5,985.79 L641.5,985.05 L643.4,983.61 L645.4,983.25 L647.4,982.57 L649.4,981.54 L651.3,980.98 L653.3,980.28 L655.3,979.85 L657.2,979.09 L659.2,978.85 L661.2,977.54 L663.1,977.15 L665.1,976.23 L667.1,975.58 L669.1,974.61 L671.0,973.78 L673.0,973.33" fill="none" stroke="#a2303a" stroke-width="1.6" stroke-linejoin="round"/>
<rect x="171.9" y="1364.4" width="415.30" height="30.10" rx="1.5" fill="#fff" stroke="#5a5a5a" stroke-width="1.4"/>
<line x1="179.4" y1="1379.4" x2="244.8" y2="1379.4" stroke="#1f4470" stroke-width="2.2"/>
<line x1="402.6" y1="1379.4" x2="455.9" y2="1379.4" stroke="#8f2a35" stroke-width="2.2"/>
<text transform="translate(3.70,22.60) scale(0.3238,0.3424)" font-family="Liberation Serif" font-weight="bold" font-size="100" fill="#000">(A)</text>
<text transform="translate(13.17,436.10) scale(0.3320,0.3338)" font-family="Liberation Serif" font-weight="bold" font-size="100" fill="#000">(B)</text>
<text transform="translate(12.49,937.15) scale(0.3285,0.3531)" font-family="Liberation Serif" font-weight="bold" font-size="100" fill="#000">(C)</text>
<text transform="translate(80.78,52.80) scale(0.1611,0.1358)" font-family="Liberation Serif" font-weight="bold" font-size="100" fill="#000">Bacterial pneumonia</text>
<text transform="translate(99.76,494.40) scale(0.1701,0.1646)" font-family="Liberation Serif" font-weight="bold" font-size="100" fill="#000">Hospitalization for COPD</text>
<text transform="translate(95.45,985.10) scale(0.1846,0.1831)" font-family="Liberation Serif" font-weight="bold" font-size="100" fill="#000">IMV</text>
<text transform="translate(269.76,345.90) scale(0.1786,0.1536)" font-family="Liberation Serif" font-weight="normal" font-size="100" fill="#000" stroke="#000" stroke-width="2">Follow time (year)</text>
<text transform="translate(288.74,822.30) scale(0.1877,0.1797)" font-family="Liberation Serif" font-weight="normal" font-size="100" fill="#000" stroke="#000" stroke-width="1">Follow time (year)</text>
<text transform="translate(303.99,1348.80) scale(0.2036,0.1971)" font-family="Liberation Serif" font-weight="normal" font-size="100" fill="#000" stroke="#000" stroke-width="1">Follow time (year)</text>
<text transform="translate(15.10,245.42) rotate(-90) scale(0.1559,0.1862)" font-family="Liberation Serif" font-weight="normal" font-size="100" fill="#000" stroke="#000" stroke-width="1.5">Cumulative incidence</text>
<text transform="translate(21.60,709.39) rotate(-90) scale(0.1732,0.1954)" font-family="Liberation Serif" font-weight="normal" font-size="100" fill="#000" stroke="#000" stroke-width="1">Cumulative incidence</text>
<text transform="translate(15.20,1221.87) rotate(-90) scale(0.1937,0.2123)" font-family="Liberation Serif" font-weight="normal" font-size="100" fill="#000" stroke="#000" stroke-width="1">Cumulative incidence</text>
<text transform="translate(226.08,374.90) scale(0.1416,0.1225)" font-family="Liberation Serif" font-weight="normal" font-size="100" fill="#000" stroke="#000" stroke-width="3">Metformin non-users</text>
<text transform="translate(412.67,374.90) scale(0.1428,0.1225)" font-family="Liberation Serif" font-weight="normal" font-size="100" fill="#000" stroke="#000" stroke-width="3">Metformin users</text>
<text transform="translate(242.05,854.40) scale(0.1497,0.1352)" font-family="Liberation Serif" font-weight="normal" font-size="100" fill="#000" stroke="#000" stroke-width="1.5">Metformin non-users</text>
<text transform="translate(438.55,854.40) scale(0.1499,0.1352)" font-family="Liberation Serif" font-weight="normal" font-size="100" fill="#000" stroke="#000" stroke-width="1.5">Metformin users</text>
<text transform="translate(254.52,1384.50) scale(0.1616,0.1563)" font-family="Liberation Serif" font-weight="normal" font-size="100" fill="#000" stroke="#000" stroke-width="1.5">Metformin non-users</text>
<text transform="translate(467.41,1384.60) scale(0.1619,0.1577)" font-family="Liberation Serif" font-weight="normal" font-size="100" fill="#000" stroke="#000" stroke-width="1.5">Metformin users</text>
<text transform="translate(25.50,66.20) scale(0.1497,0.1229)" font-family="Liberation Sans" font-size="100" fill="#222" stroke="#222" stroke-width="2">0.60</text>
<text transform="translate(25.50,143.80) scale(0.1497,0.1229)" font-family="Liberation Sans" font-size="100" fill="#222" stroke="#222" stroke-width="2">0.40</text>
<text transform="translate(25.50,220.50) scale(0.1497,0.1229)" font-family="Liberation Sans" font-size="100" fill="#222" stroke="#222" stroke-width="2">0.20</text>
<text transform="translate(25.50,296.60) scale(0.1497,0.1229)" font-family="Liberation Sans" font-size="100" fill="#222" stroke="#222" stroke-width="2">0.00</text>
<text transform="translate(36.34,509.80) scale(0.1406,0.1257)" font-family="Liberation Sans" font-size="100" fill="#222" stroke="#222" stroke-width="3">0.20</text>
<text transform="translate(36.34,574.17) scale(0.1406,0.1257)" font-family="Liberation Sans" font-size="100" fill="#222" stroke="#222" stroke-width="3">0.15</text>
<text transform="translate(36.34,638.55) scale(0.1406,0.1257)" font-family="Liberation Sans" font-size="100" fill="#222" stroke="#222" stroke-width="3">0.10</text>
<text transform="translate(36.34,702.92) scale(0.1406,0.1257)" font-family="Liberation Sans" font-size="100" fill="#222" stroke="#222" stroke-width="3">0.05</text>
<text transform="translate(36.34,767.30) scale(0.1406,0.1257)" font-family="Liberation Sans" font-size="100" fill="#222" stroke="#222" stroke-width="3">0.00</text>
<text transform="translate(27.72,1286.80) scale(0.1711,0.1486)" font-family="Liberation Sans" font-size="100" fill="#222" stroke="#222" stroke-width="1">0.00</text>
<text transform="translate(27.72,1214.75) scale(0.1711,0.1486)" font-family="Liberation Sans" font-size="100" fill="#222" stroke="#222" stroke-width="1">0.10</text>
<text transform="translate(27.72,1142.70) scale(0.1711,0.1486)" font-family="Liberation Sans" font-size="100" fill="#222" stroke="#222" stroke-width="1">0.20</text>
<text transform="translate(27.72,1070.65) scale(0.1711,0.1486)" font-family="Liberation Sans" font-size="100" fill="#222" stroke="#222" stroke-width="1">0.30</text>
<text transform="translate(27.72,998.60) scale(0.1711,0.1486)" font-family="Liberation Sans" font-size="100" fill="#222" stroke="#222" stroke-width="1">0.40</text>
<text transform="translate(73.71,324.30) scale(0.1354,0.1114)" font-family="Liberation Sans" font-size="100" fill="#222" stroke="#222" stroke-width="2">0</text>
<text transform="translate(130.61,324.30) scale(0.1354,0.1114)" font-family="Liberation Sans" font-size="100" fill="#222" stroke="#222" stroke-width="2">1</text>
<text transform="translate(187.51,324.30) scale(0.1354,0.1114)" font-family="Liberation Sans" font-size="100" fill="#222" stroke="#222" stroke-width="2">2</text>
<text transform="translate(245.91,324.30) scale(0.1354,0.1114)" font-family="Liberation Sans" font-size="100" fill="#222" stroke="#222" stroke-width="2">3</text>
<text transform="translate(302.21,324.30) scale(0.1354,0.1114)" font-family="Liberation Sans" font-size="100" fill="#222" stroke="#222" stroke-width="2">4</text>
<text transform="translate(360.61,324.30) scale(0.1354,0.1114)" font-family="Liberation Sans" font-size="100" fill="#222" stroke="#222" stroke-width="2">5</text>
<text transform="translate(418.11,324.30) scale(0.1354,0.1114)" font-family="Liberation Sans" font-size="100" fill="#222" stroke="#222" stroke-width="2">6</text>
<text transform="translate(473.51,324.30) scale(0.1354,0.1114)" font-family="Liberation Sans" font-size="100" fill="#222" stroke="#222" stroke-width="2">7</text>
<text transform="translate(531.11,324.30) scale(0.1354,0.1114)" font-family="Liberation Sans" font-size="100" fill="#222" stroke="#222" stroke-width="2">8</text>
<text transform="translate(590.41,324.30) scale(0.1354,0.1114)" font-family="Liberation Sans" font-size="100" fill="#222" stroke="#222" stroke-width="2">9</text>
<text transform="translate(81.83,797.70) scale(0.1417,0.1200)" font-family="Liberation Sans" font-size="100" fill="#222" stroke="#222" stroke-width="3">0</text>
<text transform="translate(141.93,797.70) scale(0.1417,0.1200)" font-family="Liberation Sans" font-size="100" fill="#222" stroke="#222" stroke-width="3">1</text>
<text transform="translate(201.83,797.70) scale(0.1417,0.1200)" font-family="Liberation Sans" font-size="100" fill="#222" stroke="#222" stroke-width="3">2</text>
<text transform="translate(263.33,797.70) scale(0.1417,0.1200)" font-family="Liberation Sans" font-size="100" fill="#222" stroke="#222" stroke-width="3">3</text>
<text transform="translate(322.43,797.70) scale(0.1417,0.1200)" font-family="Liberation Sans" font-size="100" fill="#222" stroke="#222" stroke-width="3">4</text>
<text transform="translate(383.73,797.70) scale(0.1417,0.1200)" font-family="Liberation Sans" font-size="100" fill="#222" stroke="#222" stroke-width="3">5</text>
<text transform="translate(444.43,797.70) scale(0.1417,0.1200)" font-family="Liberation Sans" font-size="100" fill="#222" stroke="#222" stroke-width="3">6</text>
<text transform="translate(502.73,797.70) scale(0.1417,0.1200)" font-family="Liberation Sans" font-size="100" fill="#222" stroke="#222" stroke-width="3">7</text>
<text transform="translate(563.23,797.70) scale(0.1417,0.1200)" font-family="Liberation Sans" font-size="100" fill="#222" stroke="#222" stroke-width="3">8</text>
<text transform="translate(625.43,797.70) scale(0.1417,0.1200)" font-family="Liberation Sans" font-size="100" fill="#222" stroke="#222" stroke-width="3">9</text>
<text transform="translate(81.14,1321.00) scale(0.1521,0.1371)" font-family="Liberation Sans" font-size="100" fill="#222" stroke="#222" stroke-width="1">0</text>
<text transform="translate(145.94,1321.00) scale(0.1521,0.1371)" font-family="Liberation Sans" font-size="100" fill="#222" stroke="#222" stroke-width="1">1</text>
<text transform="translate(210.44,1321.00) scale(0.1521,0.1371)" font-family="Liberation Sans" font-size="100" fill="#222" stroke="#222" stroke-width="1">2</text>
<text transform="translate(277.24,1321.00) scale(0.1521,0.1371)" font-family="Liberation Sans" font-size="100" fill="#222" stroke="#222" stroke-width="1">3</text>
<text transform="translate(341.44,1321.00) scale(0.1521,0.1371)" font-family="Liberation Sans" font-size="100" fill="#222" stroke="#222" stroke-width="1">4</text>
<text transform="translate(407.64,1321.00) scale(0.1521,0.1371)" font-family="Liberation Sans" font-size="100" fill="#222" stroke="#222" stroke-width="1">5</text>
<text transform="translate(473.44,1321.00) scale(0.1521,0.1371)" font-family="Liberation Sans" font-size="100" fill="#222" stroke="#222" stroke-width="1">6</text>
<text transform="translate(536.44,1321.00) scale(0.1521,0.1371)" font-family="Liberation Sans" font-size="100" fill="#222" stroke="#222" stroke-width="1">7</text>
<text transform="translate(602.24,1321.00) scale(0.1521,0.1371)" font-family="Liberation Sans" font-size="100" fill="#222" stroke="#222" stroke-width="1">8</text>
<text transform="translate(669.94,1321.00) scale(0.1521,0.1371)" font-family="Liberation Sans" font-size="100" fill="#222" stroke="#222" stroke-width="1">9</text>
</svg>
</body></html>
